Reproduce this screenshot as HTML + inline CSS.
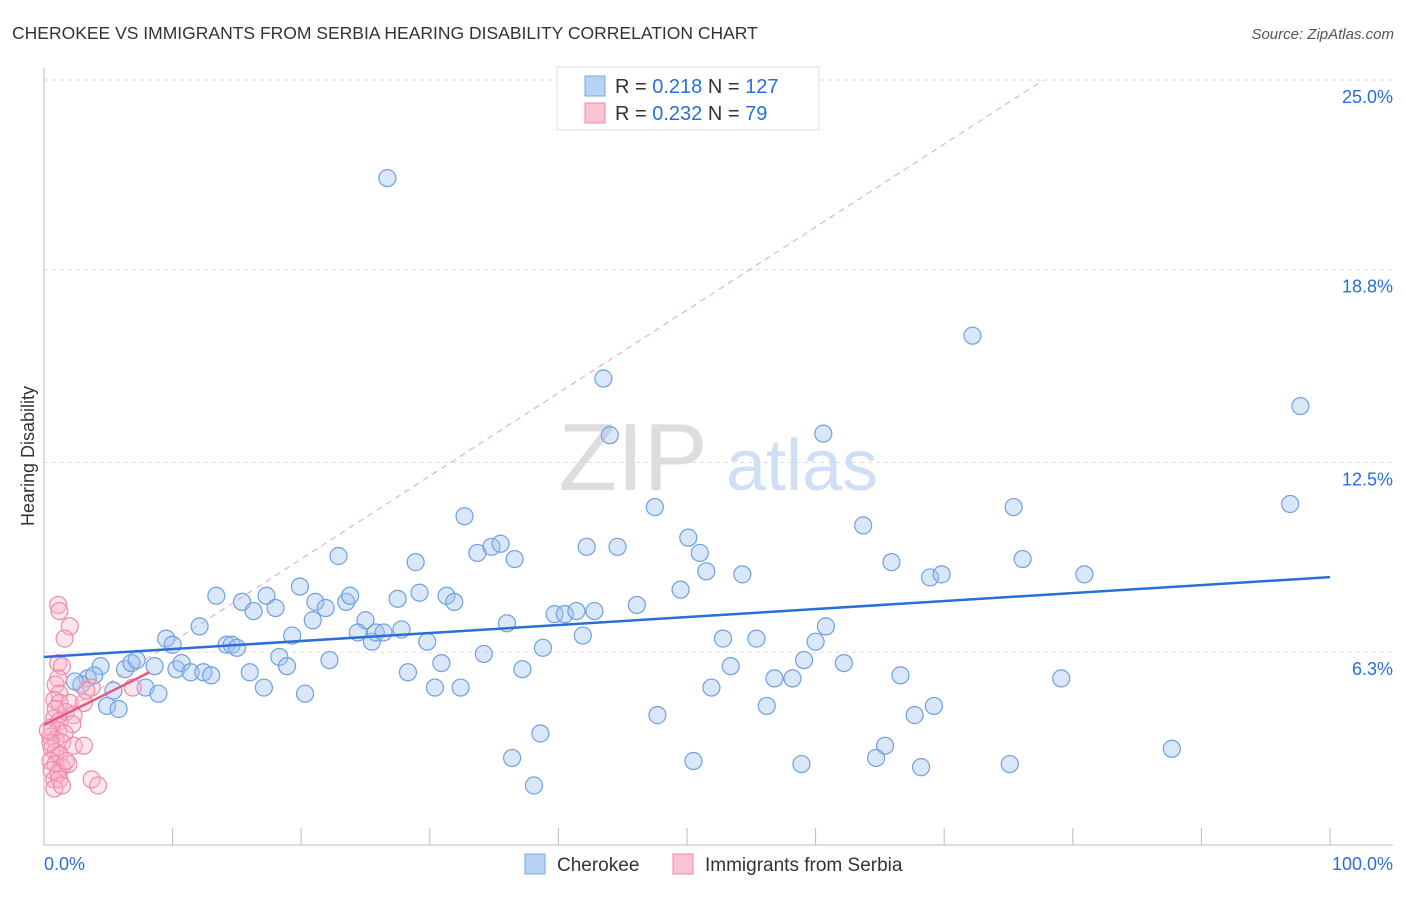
<!DOCTYPE html>
<html><head><meta charset="utf-8"><style>
body{margin:0;background:#fff;font-family:"Liberation Sans",sans-serif;}
svg text{font-family:"Liberation Sans",sans-serif;}
</style></head><body>
<svg id="chart" width="1406" height="892" xmlns="http://www.w3.org/2000/svg">
<text x="12" y="39" font-size="17.5" fill="#333">CHEROKEE VS IMMIGRANTS FROM SERBIA HEARING DISABILITY CORRELATION CHART</text>
<text x="1394" y="39" font-size="15" fill="#555" font-style="italic" text-anchor="end">Source: ZipAtlas.com</text>
<g>
<text x="633" y="490" font-size="96" font-family="Liberation Serif" fill="#ddd" text-anchor="middle">ZIP</text>
<text x="802" y="490" font-size="72" fill="#cfe0f5" text-anchor="middle">atlas</text>
</g>
<g id="grid"></g>
<g id="axes"></g>
<g id="marks"></g>
<g>
<rect x="557" y="67" width="262" height="63" fill="#fff" stroke="#ddd"/>
<rect x="585" y="76" width="20" height="20" fill="#b8d2f4" stroke="#7aa6e6"/>
<text x="615" y="93" font-size="20" fill="#333">R = <tspan fill="#2a6fd6">0.218</tspan>   N = <tspan fill="#2a6fd6">127</tspan></text>
<rect x="585" y="103" width="20" height="20" fill="#f8c4d4" stroke="#f08aaa"/>
<text x="615" y="120" font-size="20" fill="#333">R = <tspan fill="#2a6fd6">0.232</tspan>   N =  <tspan fill="#2a6fd6"> 79</tspan></text>
</g>
<g>
<rect x="525" y="854" width="20" height="20" fill="#b8d2f4" stroke="#7aa6e6"/>
<text x="557" y="871" font-size="19" fill="#333">Cherokee</text>
<rect x="673" y="854" width="20" height="20" fill="#f8c4d4" stroke="#f08aaa"/>
<text x="705" y="871" font-size="19" fill="#333">Immigrants from Serbia</text>
</g>
<text transform="translate(34,456) rotate(-90)" font-size="18" fill="#333" text-anchor="middle">Hearing Disability</text>
</svg>
<script>
const cherokeeX=[26.7,72.2,43.5,97.7,44.0,60.6,32.7,47.5,75.4,96.9,63.7,50.1,22.9,28.9,33.7,34.8,35.5,36.6,42.2,44.6,51.0,51.5,54.3,65.9,68.9,69.8,76.1,80.9,49.5,13.4,15.4,16.3,17.3,18.0,19.9,21.1,21.9,23.5,23.8,27.5,29.2,31.3,31.9,36.0,39.7,40.5,41.4,42.8,46.1,12.1,9.5,10.0,14.2,14.6,15.0,19.3,20.9,25.0,24.4,25.5,25.8,26.4,27.8,29.8,38.8,41.9,52.8,55.4,60.0,60.8,4.4,6.3,6.8,7.2,8.6,10.3,10.7,11.4,12.4,13.0,16.0,18.3,18.9,22.2,28.3,30.9,34.2,37.2,53.4,59.1,62.2,56.8,58.2,66.6,79.1,3.4,3.9,2.9,2.4,5.4,7.9,8.9,17.1,20.3,30.4,32.4,51.9,4.9,5.8,56.2,67.7,69.2,47.7,38.6,65.4,87.7,36.4,50.5,58.9,64.7,68.2,75.1,38.1];
const cherokeeY=[22.35,17.2,15.8,14.9,13.95,14.0,11.3,11.6,11.6,11.7,11.0,10.6,10.0,9.8,10.1,10.3,10.4,9.9,10.3,10.3,10.1,9.5,9.4,9.8,9.3,9.4,9.9,9.4,8.9,8.7,8.5,8.2,8.7,8.3,9.0,8.5,8.3,8.5,8.7,8.6,8.8,8.7,8.5,7.8,8.1,8.1,8.2,8.2,8.4,7.7,7.3,7.1,7.1,7.1,7.0,7.4,7.9,7.9,7.5,7.2,7.5,7.5,7.6,7.2,7.0,7.4,7.3,7.3,7.2,7.7,6.4,6.3,6.5,6.6,6.4,6.3,6.5,6.2,6.2,6.1,6.2,6.7,6.4,6.6,6.2,6.5,6.8,6.3,6.4,6.6,6.5,6.0,6.0,6.1,6.0,6.0,6.1,5.8,5.9,5.6,5.7,5.5,5.7,5.5,5.7,5.7,5.7,5.1,5.0,5.1,4.8,5.1,4.8,4.2,3.8,3.7,3.4,3.3,3.2,3.4,3.1,3.2,2.5];
const serbiaX=[1.1,1.2,2.0,1.6,1.1,1.4,1.1,0.9,3.7,6.9,1.2,0.8,1.2,2.0,3.1,0.9,1.7,2.3,0.8,1.2,2.2,0.6,1.1,1.6,0.5,0.9,1.4,2.3,3.1,0.6,0.9,1.2,0.5,0.9,1.4,1.9,0.6,1.1,0.8,1.2,3.7,4.2,0.8,1.4,0.5,0.3,1.7,3.3];
const serbiaY=[8.4,8.2,7.7,7.3,6.5,6.4,6.0,5.8,5.7,5.7,5.5,5.3,5.2,5.2,5.2,5.0,4.9,4.8,4.7,4.6,4.5,4.4,4.3,4.2,4.1,4.0,3.9,3.8,3.8,3.7,3.6,3.5,3.3,3.2,3.1,3.2,3.0,2.9,2.7,2.7,2.7,2.5,2.4,2.5,3.9,4.3,3.3,5.6];
const yTicks=[25.0,18.8,12.5,6.3];
const yTickLabels=["25.0%","18.8%","12.5%","6.3%"];
const xTickVals=[0,10,20,30,40,50,60,70,80,90,100];
const blueTrend=[[0,6.7],[100,9.31]];
const pinkTrend=[[0,4.48],[8.2,6.2]];
const pinkDash=[[0,4.48],[77.7,25.55]];
const NS="http://www.w3.org/2000/svg";
const xs=v=>44+12.86*v;
const ys=v=>862-30.6*v;
function mk(tag,attrs,parent){const e=document.createElementNS(NS,tag);for(const k in attrs)e.setAttribute(k,attrs[k]);parent.appendChild(e);return e;}
const grid=document.getElementById('grid'),axes=document.getElementById('axes'),marks=document.getElementById('marks');
yTicks.forEach((t,i)=>{
 const gl=mk('line',{x1:44,x2:1393,y1:ys(t)-17,y2:ys(t)-17,stroke:'#ddd','stroke-dasharray':'4,4'},grid);
 
 
 const tl=mk('text',{x:1393,y:ys(t)+6,'font-size':18,fill:'#2a6fd6','text-anchor':'end'},axes);
 tl.textContent=yTickLabels[i];
 
 
});
const xl=mk('line',{x1:44,x2:1393,y1:845,y2:845,stroke:'#bbb'},axes);


const yl=mk('line',{x1:44,x2:44,y1:68,y2:845,stroke:'#bbb'},axes);


xTickVals.forEach(t=>{
 const tk=mk('line',{x1:xs(t),x2:xs(t),y1:828,y2:845,stroke:'#bbb'},axes);
 
 
});
const x0=mk('text',{x:44,y:870,'font-size':18,fill:'#2a6fd6'},axes);x0.textContent='0.0%';


const x1=mk('text',{x:1393,y:870,'font-size':18,fill:'#2a6fd6','text-anchor':'end'},axes);x1.textContent='100.0%';


const dl=mk('line',{x1:xs(pinkDash[0][0]),y1:ys(pinkDash[0][1]),x2:xs(pinkDash[1][0]),y2:ys(pinkDash[1][1]),stroke:'#f0a0b8','stroke-dasharray':'6,5','stroke-width':1},marks);


cherokeeX.forEach((v,i)=>{
 const c=mk('circle',{cx:xs(v),cy:ys(cherokeeY[i]),r:8.5,fill:'rgba(160,196,240,0.4)',stroke:'#6fa0e0','stroke-width':1.2},marks);
 
 
});
serbiaX.forEach((v,i)=>{
 const c=mk('circle',{cx:xs(v),cy:ys(serbiaY[i]),r:8.5,fill:'rgba(248,180,200,0.35)',stroke:'#f08aaa','stroke-width':1.2},marks);
 
 
});
const bl=mk('line',{x1:xs(blueTrend[0][0]),y1:ys(blueTrend[0][1]),x2:xs(blueTrend[1][0]),y2:ys(blueTrend[1][1]),stroke:'#2a6fd6','stroke-width':2.5},marks);


const pl=mk('line',{x1:xs(pinkTrend[0][0]),y1:ys(pinkTrend[0][1]),x2:xs(pinkTrend[1][0]),y2:ys(pinkTrend[1][1]),stroke:'#e8557f','stroke-width':2.5},marks);


</script>
</body></html>
